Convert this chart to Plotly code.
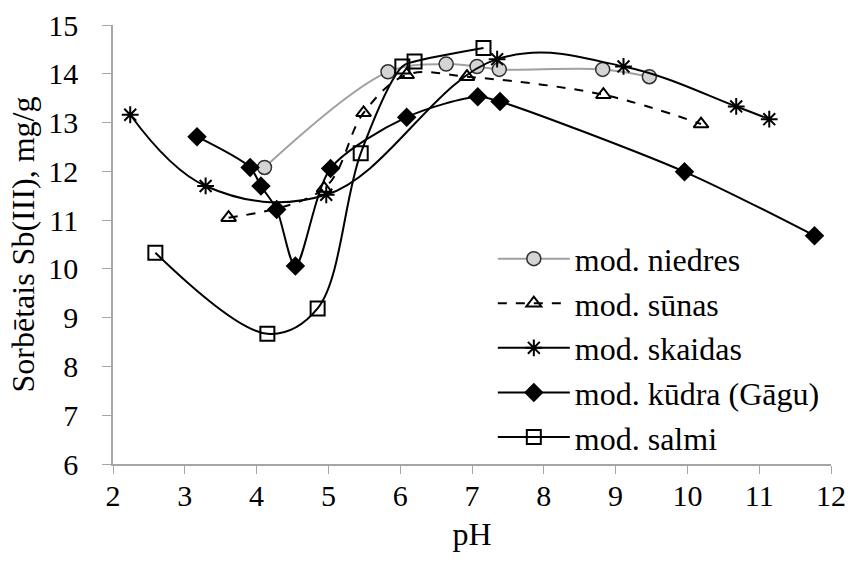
import plotly.graph_objs as go

# pH vs sorbed Sb(III), mg/g
niedres_ph = [4.11, 5.83, 6.64, 7.07, 7.38, 8.82, 9.47]
niedres_q = [12.08, 14.04, 14.20, 14.15, 14.09, 14.09, 13.94]

sunas_ph = [3.61, 4.94, 5.49, 6.09, 6.93, 8.83, 10.19]
sunas_q = [11.05, 11.65, 13.20, 13.98, 13.94, 13.57, 12.97]

skaidas_ph = [2.24, 3.29, 4.97, 7.35, 9.11, 10.68, 11.14]
skaidas_q = [13.16, 11.70, 11.52, 14.30, 14.15, 13.33, 13.07]

kudra_ph = [3.17, 3.91, 4.06, 4.28, 4.54, 5.03, 6.09, 7.08, 7.39, 9.96, 11.77]
kudra_q = [12.71, 12.08, 11.70, 11.22, 10.06, 12.06, 13.11, 13.53, 13.43, 11.99, 10.68]

salmi_ph = [2.59, 4.15, 4.85, 5.45, 6.03, 6.20, 7.16]
salmi_q = [10.33, 8.67, 9.19, 12.37, 14.15, 14.25, 14.53]

font = "Liberation Serif"
txt = dict(family=font, size=31, color="black")
ticktxt = dict(family=font, size=30, color="black")

fig = go.Figure()

fig.add_trace(go.Scatter(x=niedres_ph, y=niedres_q, name="mod. niedres",
                         mode="lines+markers", legendgroup="a",
                         line=dict(color="#a0a0a0", width=2, shape="spline", smoothing=1),
                         marker=dict(symbol="circle", size=14, color="#d4d4d4",
                                     line=dict(color="#303030", width=1.5))))
fig.add_trace(go.Scatter(x=sunas_ph, y=sunas_q, name="mod. sūnas",
                         mode="lines+markers", legendgroup="b",
                         line=dict(color="black", width=2, dash="dash", shape="spline", smoothing=1),
                         marker=dict(symbol="triangle-up-open", size=13, color="black",
                                     line=dict(width=2))))
fig.add_trace(go.Scatter(x=skaidas_ph, y=skaidas_q, name="mod. skaidas",
                         mode="lines+markers", legendgroup="c",
                         line=dict(color="black", width=2, shape="spline", smoothing=1.1),
                         marker=dict(symbol="asterisk-open", size=14, color="black",
                                     line=dict(width=2, color="black"))))
fig.add_trace(go.Scatter(x=kudra_ph, y=kudra_q, name="mod. kūdra (Gāgu)",
                         mode="lines+markers", legendgroup="d",
                         line=dict(color="black", width=2, shape="spline", smoothing=0.8),
                         marker=dict(symbol="diamond", size=15, color="black")))
fig.add_trace(go.Scatter(x=salmi_ph, y=salmi_q, name="mod. salmi",
                         mode="lines+markers", legendgroup="e",
                         line=dict(color="black", width=2, shape="spline", smoothing=1),
                         marker=dict(symbol="square-open", size=14, color="black",
                                     line=dict(width=2))))

fig.update_layout(width=850, height=563,
                  margin=dict(l=113, r=19, t=25, b=99),
                  paper_bgcolor="white", plot_bgcolor="white",
                  font=txt,
                  legend=dict(x=0.529, y=0.53, xanchor="left", yanchor="top",
                              itemwidth=72, tracegroupgap=0,
                              bgcolor="rgba(0,0,0,0)",
                              font=dict(family=font, size=32, color="black")),
                  xaxis=dict(range=[2, 12], dtick=1, showgrid=False, zeroline=False,
                             showline=True, linecolor="#a6a6a6", linewidth=1.5,
                             ticks="outside", ticklen=8, tickcolor="#a6a6a6",
                             tickfont=ticktxt, ticklabelstandoff=-4, automargin=False,
                             title=dict(text="pH", standoff=12,
                                        font=dict(family=font, size=32, color="black"))),
                  yaxis=dict(range=[6, 15], dtick=1, showgrid=False, zeroline=False,
                             showline=True, linecolor="#a6a6a6", linewidth=1.5,
                             ticks="outside", ticklen=9, tickcolor="#a6a6a6",
                             tickfont=ticktxt, ticklabelstandoff=18, automargin=False,
                             title=dict(text="Sorbētais Sb(III), mg/g", standoff=4,
                                        font=dict(family=font, size=32, color="black"))))

# page body has an 8px margin by default; drop it so the figure fills the window
fig.write_html("out.html", config={"displayModeBar": False},
               post_script="document.body.style.margin='0';")
